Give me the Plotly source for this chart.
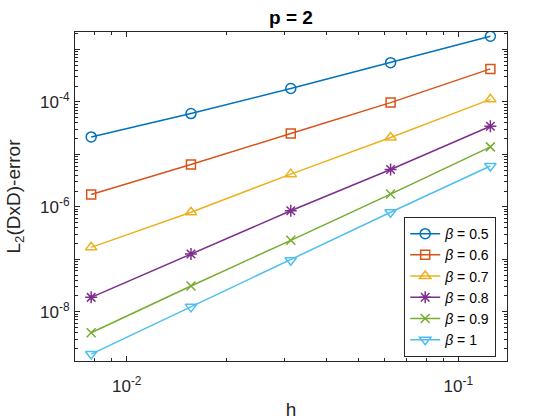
import plotly.graph_objects as go

h = [1/128, 1/64, 1/32, 1/16, 1/8]
beta_labels = ["0.5", "0.6", "0.7", "0.8", "0.9", "1"]
err_b05 = [2.15e-5, 6.0e-5, 1.8e-4, 5.6e-4, 1.79e-3]
err_b06 = [1.72e-6, 6.4e-6, 2.5e-5, 9.7e-5, 4.26e-4]
err_b07 = [1.69e-7, 7.9e-7, 4.2e-6, 2.1e-5, 1.12e-4]
err_b08 = [1.88e-8, 1.26e-7, 8.4e-7, 5.15e-6, 3.44e-5]
err_b09 = [3.98e-9, 3.1e-8, 2.3e-7, 1.75e-6, 1.39e-5]
err_b10 = [1.56e-9, 1.24e-8, 9.6e-8, 7.9e-7, 6.0e-6]
series = [err_b05, err_b06, err_b07, err_b08, err_b09, err_b10]

colors = ["#0072BD", "#D95319", "#EDB120", "#7E2F8E", "#77AC30", "#4DBEEE"]
symbols = ["circle-open", "square-open", "triangle-up-open", "asterisk-open",
           "x-thin-open", "triangle-down-open"]
sizes = [10, 9, 10, 10, 9, 10]

FONT = "Liberation Sans, Arial, Helvetica"

fig = go.Figure()
for lab, ys, c, s, sz in zip(beta_labels, series, colors, symbols, sizes):
    fig.add_trace(go.Scatter(
        x=h, y=ys, mode="lines+markers", name=f"<i>β</i> = {lab}",
        line=dict(color=c, width=1.5),
        marker=dict(symbol=s, size=sz, color=c, line=dict(color=c, width=1.5)),
    ))

y_major = [10.0**k for k in range(-10, -1)]
y_text = ["10<sup>%d</sup>" % k if k in (-4, -6, -8) else "" for k in range(-10, -1)]
y_minor = [m * 10.0**k for k in range(-10, -1) for m in range(2, 10)]
x_major = [1e-3, 1e-2, 1e-1, 1.0]
x_text = ["", "10<sup>-2</sup>", "10<sup>-1</sup>", ""]
x_minor = [m * 10.0**k for k in range(-3, 0) for m in range(2, 10)]

axis_common = dict(
    type="log", showgrid=False, zeroline=False, showline=True, linecolor="#262626",
    linewidth=1, mirror="allticks", ticks="inside", ticklen=5, tickcolor="#262626",
    tickfont=dict(family=FONT, size=17, color="#262626"), automargin=False,
)

fig.update_layout(
    width=560, height=420,
    margin=dict(l=75, r=53, t=32, b=59),
    paper_bgcolor="white", plot_bgcolor="white",
    font=dict(family=FONT, color="#262626"),
    title=dict(text="<b>p = 2</b>", x=0.5, xref="paper", xanchor="center",
               y=1 - 17/420, yref="container", yanchor="middle",
               font=dict(size=19, color="black")),
    xaxis=dict(axis_common, range=[-2.156, -0.853], tickmode="array",
               tickvals=x_major, ticktext=x_text, ticklabelstandoff=10,
               minor=dict(tickmode="array", tickvals=x_minor, ticks="inside",
                          ticklen=3, tickcolor="#262626"),
               title=dict(text="h", font=dict(size=19, color="#262626"), standoff=8)),
    yaxis=dict(axis_common, range=[-8.939, -2.667], tickmode="array",
               tickvals=y_major, ticktext=y_text, ticklabelstandoff=1,
               minor=dict(tickmode="array", tickvals=y_minor, ticks="inside",
                          ticklen=3, tickcolor="#262626"),
               title=dict(text="L<sub>2</sub>(DxD)-error",
                          font=dict(size=19, color="#262626"), standoff=14)),
    legend=dict(x=0.975, y=0.012, xanchor="right", yanchor="bottom",
                bgcolor="white", bordercolor="#262626", borderwidth=1,
                font=dict(size=14, color="black"), tracegroupgap=0,
                itemwidth=30),
    showlegend=True,
)

fig.write_html("out.html")
